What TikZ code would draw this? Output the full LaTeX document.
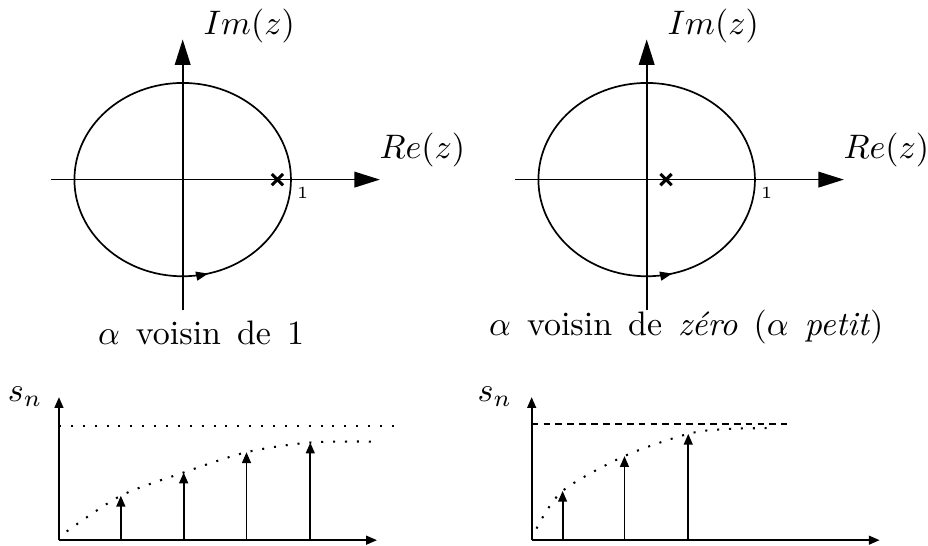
\documentclass[tikz,border=0pt]{standalone}
\usepackage{amsmath,amssymb}
\usepackage{tikz}
\usetikzlibrary{
  arrows.meta, positioning, calc,
  shapes.misc, decorations.markings
}

\tikzset{
  axe/.style={line width=0.5pt, -{Triangle[length=7.5pt,width=4.6pt]}},
  petitaxe/.style={line width=0.55pt, -{Triangle[length=3.2pt,width=2.6pt]}},
  contour/.style={line width=0.5pt, postaction={decorate},
    decoration={markings, mark=at position 0.79 with {\arrow{Triangle[length=3.6pt,width=2.6pt]}}}},
  pole/.style={cross out, draw, line width=0.9pt, minimum size=2.4pt, inner sep=0pt},
  pointille/.style={line width=0.6pt, dash pattern=on 0.6pt off 2.9pt},
  tirets/.style={line width=0.5pt, dash pattern=on 2pt off 1.5pt},
  legende/.style={anchor=base, inner sep=0pt, execute at begin node={\spaceskip=4.7pt\relax}}
}

\begin{document}
\begin{tikzpicture}
\useasboundingbox (0,0) rectangle (9.6,5.638);
% plans complexes
\foreach \nom/\cx/\pos in {g/1.89/0.98, d/6.69/0.20}{
  \begin{scope}[shift={(\cx,3.78)}]
    \coordinate (o-\nom) at (0,0);
    \coordinate (xa-\nom) at (-1.36,0);
    \coordinate (xb-\nom) at (2.04,0);
    \coordinate (ya-\nom) at (0,-1.35);
    \coordinate (yb-\nom) at (0,1.45);
    \draw[axe] (xa-\nom) -- (xb-\nom);
    \draw[axe] (ya-\nom) -- (yb-\nom);
    \draw[contour] (o-\nom) ellipse [x radius=1.12, y radius=1.0];
    \node[pole] (p-\nom) at (\pos,0) {};
    \node[font=\tiny, anchor=north west, inner sep=1pt] (un-\nom) at (1.14,-0.04) {1};
    \node[anchor=west, inner sep=0pt] (im-\nom) at (0.21,1.59) {$Im(z)$};
    \node[anchor=west, inner sep=0pt] (re-\nom) at (2.03,0.31) {$Re(z)$};
  \end{scope}
}
\node[legende] (leg-g) at (2.08,2.07) {$\alpha$ voisin de 1};
\node[legende] (leg-d) at (7.10,2.17) {$\alpha$ voisin de \textit{zéro} ($\alpha$ \textit{petit})};

% suites s_n
\node (sn-g) at (0.26,1.53) {$s_n$};
\node (sn-d) at (5.12,1.53) {$s_n$};

\begin{scope}[shift={(0.61,0.05)}]
  \coordinate (b-g) at (0,0);
  \coordinate (bx-g) at (3.29,0);
  \coordinate (by-g) at (0,1.48);
  \coordinate (lim-g) at (3.56,1.18);
  \draw[petitaxe] (b-g) -- (bx-g);
  \draw[petitaxe] (b-g) -- (by-g);
  \draw[pointille] (b-g |- lim-g) -- (lim-g);
  \draw[pointille] plot[smooth] coordinates {(0.08,0.09) (0.64,0.46) (1.29,0.70) (1.94,0.91) (2.60,1.01) (3.27,1.02)};
  \foreach \i/\x/\y in {1/0.64/0.46, 2/1.29/0.70, 3/1.94/0.91, 4/2.60/1.01}{
    \coordinate (s\i-g) at (\x,\y);
    \draw[petitaxe] (s\i-g |- b-g) -- (s\i-g);
  }
\end{scope}

\begin{scope}[shift={(5.50,0.05)}]
  \coordinate (b-d) at (0,0);
  \coordinate (bx-d) at (3.60,0);
  \coordinate (by-d) at (0,1.48);
  \coordinate (lim-d) at (2.64,1.20);
  \draw[petitaxe] (b-d) -- (bx-d);
  \draw[petitaxe] (b-d) -- (by-d);
  \draw[tirets] (b-d |- lim-d) -- (lim-d);
  \draw[pointille] plot[smooth] coordinates {(0.05,0.12) (0.32,0.51) (0.96,0.87) (1.62,1.10) (2.02,1.15) (2.53,1.16)};
  \foreach \i/\x/\y in {1/0.32/0.51, 2/0.96/0.87, 3/1.62/1.10}{
    \coordinate (s\i-d) at (\x,\y);
    \draw[petitaxe] (s\i-d |- b-d) -- (s\i-d);
  }
\end{scope}
\end{tikzpicture}
\end{document}
